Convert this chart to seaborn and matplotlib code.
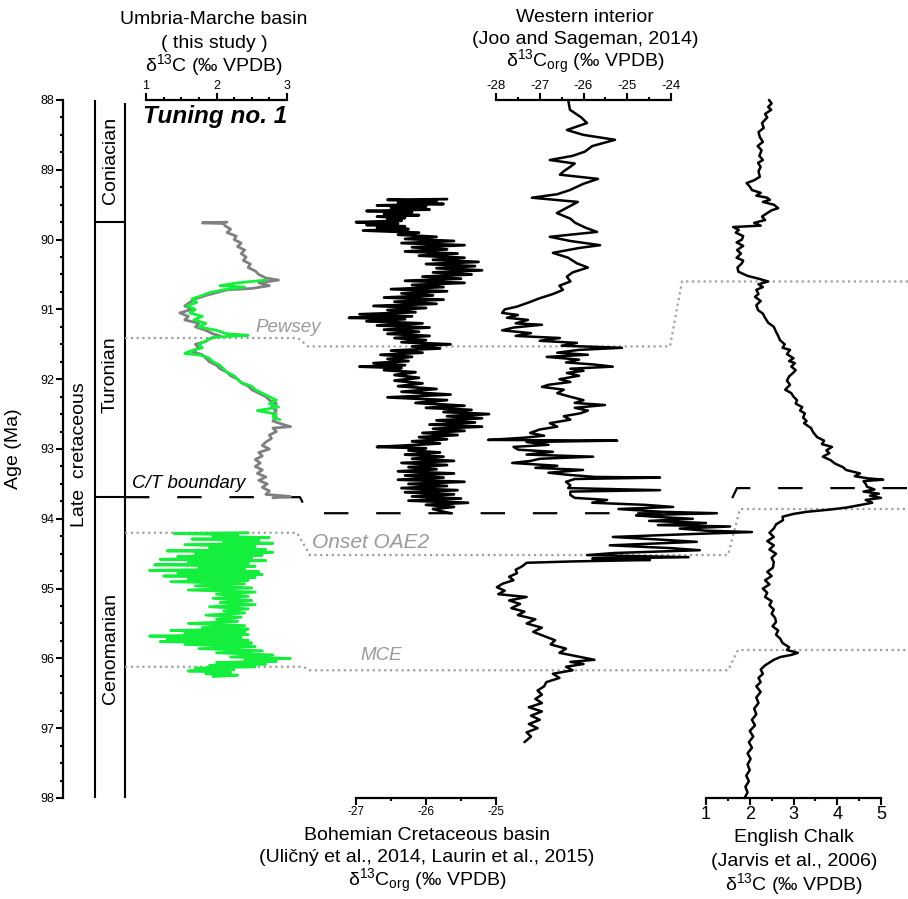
import matplotlib
matplotlib.use("Agg")
import matplotlib.pyplot as plt
from matplotlib.ticker import MultipleLocator
import seaborn as sns

# ---------------- data (age in Ma, value in permil) ----------------
umbria_grey = [
    (89.75, 2.15), (89.76, 1.80), (89.77, 2.10), (89.80, 2.12), (89.85, 2.20), (89.90, 2.15),
    (89.95, 2.28), (90.00, 2.25), (90.05, 2.35), (90.10, 2.30), (90.15, 2.40), (90.20, 2.35),
    (90.25, 2.42), (90.30, 2.38), (90.35, 2.48), (90.40, 2.45), (90.45, 2.55), (90.50, 2.60),
    (90.55, 2.70), (90.58, 2.88), (90.62, 2.60), (90.66, 2.75), (90.70, 2.50), (90.72, 2.15),
    (90.76, 2.00), (90.80, 1.85), (90.85, 1.70), (90.90, 1.62), (90.95, 1.55), (91.00, 1.65),
    (91.05, 1.48), (91.10, 1.60), (91.15, 1.55), (91.20, 1.75), (91.25, 1.70), (91.30, 1.85),
    (91.35, 1.95), (91.38, 2.05), (91.42, 1.90), (91.46, 1.85), (91.50, 1.70), (91.55, 1.75),
    (91.60, 1.65), (91.65, 1.80), (91.70, 1.85), (91.75, 1.90), (91.80, 2.00), (91.85, 2.05),
    (91.90, 2.15), (91.95, 2.20), (92.00, 2.30), (92.05, 2.35), (92.10, 2.45), (92.15, 2.50),
    (92.20, 2.60), (92.25, 2.70), (92.30, 2.75), (92.35, 2.85), (92.40, 2.78), (92.45, 2.85),
    (92.50, 2.80), (92.55, 2.85), (92.60, 2.80), (92.65, 2.95), (92.68, 3.05), (92.70, 2.80),
    (92.75, 2.85), (92.80, 2.75), (92.85, 2.78), (92.90, 2.70), (92.95, 2.65), (93.00, 2.75),
    (93.05, 2.60), (93.10, 2.65), (93.15, 2.55), (93.20, 2.62), (93.25, 2.55), (93.30, 2.65),
    (93.35, 2.58), (93.40, 2.70), (93.45, 2.60), (93.50, 2.72), (93.55, 2.65), (93.60, 2.75),
    (93.65, 2.70), (93.68, 3.05), (93.70, 2.80),
]

umbria_green_upper = [
    (90.58, 2.70), (90.62, 2.30), (90.66, 2.05), (90.68, 2.40), (90.72, 2.10), (90.76, 1.90),
    (90.80, 1.80), (90.85, 1.65), (90.90, 1.72), (90.95, 1.58), (91.00, 1.70), (91.05, 1.62),
    (91.10, 1.80), (91.15, 1.68), (91.20, 1.85), (91.25, 1.75), (91.30, 2.00), (91.35, 2.15),
    (91.37, 2.45), (91.40, 1.95), (91.45, 1.85), (91.50, 1.75), (91.55, 1.80), (91.60, 1.62),
    (91.63, 1.55), (91.66, 1.80), (91.70, 1.90), (91.75, 1.95), (91.80, 2.05), (91.85, 2.10),
    (91.90, 2.15), (91.95, 2.25), (92.00, 2.30), (92.05, 2.35), (92.10, 2.50), (92.15, 2.55),
    (92.20, 2.65), (92.25, 2.75), (92.30, 2.85), (92.35, 2.75), (92.40, 2.88), (92.45, 2.58),
    (92.50, 2.85), (92.55, 2.80), (92.58, 2.90),
]

umbria_green_lower = [
    (94.20, 2.45), (94.21, 1.40), (94.23, 2.30), (94.25, 1.95), (94.27, 2.75), (94.29, 1.65),
    (94.31, 2.60), (94.33, 2.10), (94.35, 2.80), (94.37, 1.55), (94.40, 2.55), (94.42, 1.90),
    (94.44, 2.70), (94.46, 1.30), (94.48, 2.80), (94.50, 1.70), (94.52, 2.65), (94.54, 1.45),
    (94.56, 2.50), (94.58, 1.20), (94.60, 2.70), (94.62, 1.60), (94.64, 2.45), (94.66, 1.12),
    (94.68, 2.55), (94.70, 1.75), (94.72, 2.40), (94.74, 1.05), (94.76, 2.60), (94.78, 1.45),
    (94.80, 2.65), (94.82, 1.25), (94.84, 2.55), (94.86, 1.60), (94.88, 2.45), (94.90, 1.35),
    (94.93, 2.40), (94.96, 1.70), (94.99, 2.50), (95.02, 1.60), (95.05, 2.55), (95.08, 2.00),
    (95.11, 2.45), (95.14, 1.95), (95.17, 2.50), (95.20, 2.05), (95.23, 2.55), (95.26, 1.90),
    (95.29, 2.45), (95.32, 2.10), (95.35, 2.40), (95.38, 1.85), (95.41, 2.35), (95.44, 2.00),
    (95.47, 2.30), (95.50, 1.60), (95.53, 2.40), (95.56, 1.80), (95.58, 2.45), (95.60, 1.35),
    (95.62, 2.40), (95.64, 1.55), (95.66, 2.45), (95.68, 1.05), (95.70, 2.35), (95.72, 1.30),
    (95.74, 2.45), (95.76, 1.20), (95.78, 2.50), (95.80, 1.55), (95.83, 2.55), (95.86, 1.75),
    (95.89, 2.65), (95.92, 2.00), (95.95, 2.80), (95.98, 2.20), (96.00, 3.05), (96.02, 2.40),
    (96.04, 2.85), (96.06, 2.00), (96.08, 2.70), (96.10, 1.90), (96.12, 2.55), (96.14, 1.70),
    (96.16, 2.25), (96.18, 1.60), (96.20, 2.20), (96.22, 1.85), (96.24, 2.30), (96.26, 1.95),
]

bohemian = [
    (89.42, -25.70), (89.43, -26.55), (89.45, -25.85), (89.47, -26.40), (89.49, -25.75), (89.51, -26.70),
    (89.53, -26.00), (89.55, -26.50), (89.57, -25.95), (89.59, -26.85), (89.61, -26.20), (89.63, -26.60),
    (89.65, -26.10), (89.67, -26.70), (89.69, -26.30), (89.71, -26.55), (89.73, -26.35), (89.75, -27.00),
    (89.77, -26.40), (89.79, -26.85), (89.81, -26.30), (89.83, -26.70), (89.85, -26.25), (89.87, -26.90),
    (89.90, -26.10), (89.93, -26.40), (89.96, -25.85), (89.99, -26.30), (90.02, -25.60), (90.05, -26.35),
    (90.08, -25.45), (90.11, -26.20), (90.14, -25.70), (90.17, -26.30), (90.20, -25.55), (90.23, -26.10),
    (90.26, -25.45), (90.29, -25.90), (90.32, -25.25), (90.35, -26.00), (90.38, -25.30), (90.41, -25.85),
    (90.44, -25.20), (90.47, -25.90), (90.50, -25.35), (90.53, -26.05), (90.56, -25.50), (90.59, -26.30),
    (90.62, -25.45), (90.65, -26.20), (90.68, -25.75), (90.71, -26.50), (90.74, -25.70), (90.77, -26.35),
    (90.80, -25.90), (90.83, -26.60), (90.86, -25.75), (90.89, -26.45), (90.92, -25.85), (90.95, -26.75),
    (90.98, -26.00), (91.01, -26.55), (91.04, -26.15), (91.07, -26.95), (91.10, -26.20), (91.12, -27.10),
    (91.14, -26.30), (91.17, -26.85), (91.20, -26.05), (91.23, -26.70), (91.26, -25.95), (91.29, -26.60),
    (91.32, -26.10), (91.35, -26.55), (91.38, -25.95), (91.41, -26.45), (91.44, -26.00), (91.47, -26.35),
    (91.50, -25.65), (91.53, -26.20), (91.56, -25.80), (91.59, -26.50), (91.62, -26.05), (91.65, -26.65),
    (91.68, -26.20), (91.71, -26.55), (91.74, -26.25), (91.77, -26.75), (91.80, -26.30), (91.82, -26.95),
    (91.84, -26.35), (91.87, -26.60), (91.90, -26.15), (91.94, -26.45), (91.98, -26.10), (92.02, -26.45),
    (92.06, -26.05), (92.10, -26.40), (92.14, -25.85), (92.18, -26.35), (92.22, -25.65), (92.26, -26.55),
    (92.30, -25.70), (92.34, -26.15), (92.38, -25.45), (92.41, -26.00), (92.44, -25.35), (92.47, -25.75),
    (92.50, -25.10), (92.53, -25.70), (92.56, -25.20), (92.59, -25.85), (92.62, -25.30), (92.65, -25.95),
    (92.68, -25.20), (92.71, -25.90), (92.74, -25.45), (92.77, -26.05), (92.80, -25.55), (92.83, -26.10),
    (92.86, -25.70), (92.89, -26.20), (92.92, -25.80), (92.95, -26.30), (92.97, -26.70), (92.99, -26.00),
    (93.02, -26.25), (93.05, -25.80), (93.08, -26.30), (93.11, -25.75), (93.14, -26.20), (93.17, -25.60),
    (93.20, -26.35), (93.23, -25.70), (93.26, -26.25), (93.29, -25.85), (93.32, -26.40), (93.35, -25.60),
    (93.38, -26.30), (93.41, -25.75), (93.44, -26.40), (93.47, -25.45), (93.50, -26.25), (93.53, -25.70),
    (93.56, -26.35), (93.59, -25.55), (93.62, -26.30), (93.65, -25.60), (93.68, -26.20), (93.71, -25.50),
    (93.74, -26.25), (93.77, -25.40), (93.80, -26.00), (93.83, -25.60), (93.86, -25.90), (93.90, -25.75),
    (93.92, -25.65),
]

western = [
    (88.00, -26.35), (88.14, -26.31), (88.25, -26.05), (88.33, -25.92), (88.43, -26.38), (88.50, -26.00),
    (88.57, -25.28), (88.66, -25.80), (88.74, -25.97), (88.80, -26.25), (88.86, -26.77), (88.91, -26.20),
    (88.96, -26.31), (89.02, -26.45), (89.07, -26.54), (89.13, -25.67), (89.20, -26.00), (89.29, -26.31),
    (89.35, -26.60), (89.40, -27.18), (89.46, -26.13), (89.55, -26.40), (89.62, -26.61), (89.70, -26.30),
    (89.76, -26.19), (89.83, -25.95), (89.89, -25.69), (89.96, -26.77), (90.02, -26.30), (90.08, -25.62),
    (90.12, -26.10), (90.19, -26.70), (90.26, -26.35), (90.34, -26.15), (90.40, -25.90), (90.47, -26.25),
    (90.53, -26.38), (90.60, -26.30), (90.66, -26.55), (90.72, -26.47), (90.78, -26.70), (90.84, -27.00),
    (90.90, -27.25), (90.96, -27.52), (91.00, -27.80), (91.05, -27.86), (91.08, -27.50), (91.12, -27.75),
    (91.15, -27.27), (91.20, -27.55), (91.22, -26.95), (91.26, -27.60), (91.30, -27.86), (91.34, -27.20),
    (91.38, -27.55), (91.41, -26.54), (91.45, -27.00), (91.48, -26.15), (91.52, -26.50), (91.55, -25.12),
    (91.58, -26.10), (91.62, -26.60), (91.65, -25.90), (91.68, -26.84), (91.72, -26.10), (91.76, -26.40),
    (91.79, -25.75), (91.82, -25.33), (91.85, -26.30), (91.88, -26.00), (91.91, -26.38), (91.95, -26.10),
    (92.00, -26.55), (92.04, -26.30), (92.08, -26.80), (92.11, -26.95), (92.15, -26.45), (92.20, -26.60),
    (92.25, -26.31), (92.30, -26.00), (92.34, -26.20), (92.37, -25.51), (92.41, -26.20), (92.45, -25.90),
    (92.49, -26.08), (92.53, -26.45), (92.58, -26.30), (92.63, -26.77), (92.68, -26.60), (92.72, -27.00),
    (92.77, -27.22), (92.81, -26.90), (92.84, -27.40), (92.87, -28.18), (92.88, -25.23), (92.90, -27.30),
    (92.94, -26.80), (92.97, -27.60), (93.01, -27.49), (93.04, -26.70), (93.08, -27.30), (93.11, -25.78),
    (93.14, -27.00), (93.17, -27.20), (93.20, -27.63), (93.24, -26.60), (93.27, -27.10), (93.30, -26.01),
    (93.34, -26.80), (93.37, -26.35), (93.40, -25.74), (93.41, -24.25), (93.43, -26.20), (93.47, -26.40),
    (93.52, -26.30), (93.56, -26.35), (93.59, -24.25), (93.61, -26.30), (93.66, -26.30), (93.70, -26.20),
    (93.73, -25.46), (93.77, -25.80), (93.80, -24.60), (93.83, -23.95), (93.86, -25.20), (93.90, -24.20),
    (93.92, -22.95), (93.95, -24.80), (93.97, -24.40), (94.00, -23.50), (94.03, -24.50), (94.06, -23.20),
    (94.09, -24.30), (94.11, -22.65), (94.14, -23.80), (94.17, -23.20), (94.19, -22.15), (94.22, -23.60),
    (94.26, -25.33), (94.30, -24.20), (94.33, -23.41), (94.38, -25.40), (94.42, -24.00), (94.45, -23.34),
    (94.49, -25.30), (94.52, -25.92), (94.55, -23.60), (94.57, -25.80), (94.59, -24.48), (94.61, -26.20),
    (94.63, -27.30), (94.68, -27.40), (94.73, -27.55), (94.78, -27.52), (94.83, -27.70), (94.88, -27.60),
    (94.93, -27.85), (94.98, -27.98), (95.03, -27.80), (95.08, -27.95), (95.12, -27.30), (95.17, -27.70),
    (95.22, -27.45), (95.28, -27.65), (95.33, -27.35), (95.38, -27.50), (95.44, -27.10), (95.50, -27.30),
    (95.56, -26.95), (95.62, -27.15), (95.68, -26.90), (95.74, -26.65), (95.80, -26.75), (95.86, -26.40),
    (95.92, -26.55), (95.97, -26.15), (96.02, -25.75), (96.05, -26.30), (96.08, -26.00), (96.12, -26.40),
    (96.17, -26.25), (96.22, -26.70), (96.28, -26.55), (96.34, -26.85), (96.40, -26.90), (96.46, -27.05),
    (96.52, -26.95), (96.58, -27.10), (96.64, -26.95), (96.70, -27.25), (96.76, -26.95), (96.82, -27.20),
    (96.88, -27.00), (96.94, -27.25), (97.00, -27.05), (97.06, -27.30), (97.12, -27.20), (97.20, -27.35),
]

english = [
    (88.00, 2.44), (88.05, 2.50), (88.10, 2.42), (88.14, 2.49), (88.20, 2.35), (88.25, 2.40),
    (88.33, 2.28), (88.40, 2.32), (88.46, 2.20), (88.53, 2.23), (88.60, 2.30), (88.66, 2.18),
    (88.72, 2.27), (88.80, 2.22), (88.86, 2.30), (88.90, 2.19), (88.96, 2.25), (89.02, 2.20),
    (89.10, 2.23), (89.15, 2.10), (89.19, 1.93), (89.24, 2.00), (89.29, 2.05), (89.33, 2.25),
    (89.37, 2.15), (89.40, 2.40), (89.43, 2.46), (89.46, 2.30), (89.50, 2.55), (89.55, 2.65),
    (89.58, 2.50), (89.62, 2.40), (89.67, 2.28), (89.72, 2.35), (89.76, 2.10), (89.80, 2.25),
    (89.82, 1.62), (89.86, 1.75), (89.90, 1.68), (89.95, 1.85), (90.00, 1.82), (90.04, 1.70),
    (90.09, 1.85), (90.15, 1.71), (90.20, 1.80), (90.26, 1.70), (90.30, 1.85), (90.34, 1.82),
    (90.40, 1.72), (90.46, 1.74), (90.52, 1.95), (90.56, 2.20), (90.60, 2.42), (90.64, 2.20),
    (90.68, 2.30), (90.72, 2.15), (90.78, 2.20), (90.82, 2.12), (90.88, 2.25), (90.94, 2.15),
    (91.01, 2.19), (91.06, 2.30), (91.12, 2.35), (91.19, 2.42), (91.25, 2.55), (91.32, 2.60),
    (91.38, 2.65), (91.44, 2.69), (91.50, 2.80), (91.55, 2.75), (91.58, 2.92), (91.64, 2.85),
    (91.70, 3.00), (91.74, 2.90), (91.77, 3.03), (91.82, 2.95), (91.87, 3.05), (91.91, 2.99),
    (91.96, 2.90), (92.02, 2.85), (92.08, 2.92), (92.15, 2.81), (92.20, 2.95), (92.25, 3.00),
    (92.30, 3.08), (92.35, 3.05), (92.40, 3.20), (92.45, 3.15), (92.49, 3.26), (92.55, 3.22),
    (92.60, 3.30), (92.63, 3.24), (92.70, 3.40), (92.76, 3.45), (92.83, 3.54), (92.88, 3.70),
    (92.93, 3.65), (92.97, 3.88), (93.02, 3.75), (93.06, 3.82), (93.11, 3.67), (93.16, 3.85),
    (93.21, 3.95), (93.26, 4.13), (93.30, 4.20), (93.35, 4.52), (93.39, 4.40), (93.42, 4.70),
    (93.44, 5.05), (93.46, 4.60), (93.50, 4.65), (93.54, 4.68), (93.58, 4.85), (93.61, 4.60),
    (93.64, 4.95), (93.67, 4.75), (93.70, 5.00), (93.73, 4.65), (93.77, 4.80), (93.80, 4.55),
    (93.84, 4.20), (93.87, 3.80), (93.90, 3.30), (93.93, 3.00), (93.97, 2.75), (94.02, 2.76),
    (94.08, 2.60), (94.14, 2.55), (94.20, 2.45), (94.26, 2.55), (94.32, 2.40), (94.38, 2.55),
    (94.44, 2.45), (94.50, 2.60), (94.56, 2.50), (94.62, 2.55), (94.70, 2.53), (94.76, 2.40),
    (94.82, 2.50), (94.88, 2.35), (94.94, 2.45), (95.00, 2.30), (95.06, 2.40), (95.12, 2.35),
    (95.18, 2.50), (95.24, 2.45), (95.30, 2.55), (95.36, 2.50), (95.42, 2.58), (95.48, 2.60),
    (95.54, 2.52), (95.60, 2.65), (95.66, 2.60), (95.72, 2.70), (95.78, 2.75), (95.84, 2.90),
    (95.88, 2.85), (95.92, 3.10), (95.95, 2.95), (95.98, 2.70), (96.02, 2.55), (96.06, 2.45),
    (96.10, 2.35), (96.16, 2.25), (96.22, 2.30), (96.28, 2.20), (96.34, 2.25), (96.40, 2.15),
    (96.48, 2.25), (96.56, 2.15), (96.64, 2.20), (96.72, 2.10), (96.80, 2.15), (96.88, 2.05),
    (96.96, 2.12), (97.04, 2.00), (97.12, 2.08), (97.20, 1.98), (97.28, 2.05), (97.36, 1.95),
    (97.44, 2.02), (97.52, 1.95), (97.60, 2.00), (97.68, 1.92), (97.76, 1.98), (97.84, 1.90),
    (97.92, 1.95), (98.00, 1.88),
]

# correlation lines: x in figure pixels, y in age
pewsey_x = [125, 298, 308, 670, 682, 908]
pewsey_age = [91.41, 91.41, 91.53, 91.53, 90.60, 90.60]
oae2_x = [125, 297, 310, 728, 740, 908]
oae2_age = [94.20, 94.20, 94.52, 94.52, 93.86, 93.86]
mce_x = [125, 303, 310, 728, 738, 908]
mce_age = [96.12, 96.12, 96.17, 96.17, 95.88, 95.88]
ct_x = [125, 300, 308, 725, 737, 908]
ct_age = [93.69, 93.69, 93.92, 93.92, 93.56, 93.56]

stage_bounds = [89.75, 93.69]
stages = ["Coniacian", "Turonian", "Cenomanian"]

# ---------------- style ----------------
sns.set_theme(style="ticks", rc={
    "axes.edgecolor": "black", "xtick.color": "black", "ytick.color": "black",
    "text.color": "black", "axes.labelcolor": "black",
})
plt.rcParams["font.family"] = ["Liberation Sans", "DejaVu Sans"]
plt.rcParams["mathtext.fontset"] = "custom"
plt.rcParams["mathtext.rm"] = "Liberation Sans"
plt.rcParams["mathtext.it"] = "Liberation Sans:italic"
plt.rcParams["mathtext.bf"] = "Liberation Sans:bold"
plt.rcParams["mathtext.default"] = "rm"
plt.rcParams["axes.unicode_minus"] = False

W, H = 908, 899
Y_TOP, Y_BOT = 100, 798
GREY_TXT = "#9a9a9a"
GREEN = "#14ee3c"


def rect(x0, x1):
    return [x0 / W, 1 - Y_BOT / H, (x1 - x0) / W, (Y_BOT - Y_TOP) / H]


def fxy(x, y):
    return x / W, 1 - y / H


fig = plt.figure(figsize=(W / 100, H / 100), dpi=100)

# overlay axes: age scale, stratigraphic columns, correlation lines
ov = fig.add_axes(rect(0, W))
ov.patch.set_alpha(0)
ov.set_xlim(0, W)
ov.set_ylim(98, 88)
for s in ["top", "right", "bottom"]:
    ov.spines[s].set_visible(False)
ov.spines["left"].set_position(("data", 63))
ov.spines["left"].set_linewidth(1.6)
ov.set_xticks([])
ov.yaxis.set_major_locator(MultipleLocator(1))
ov.yaxis.set_minor_locator(MultipleLocator(0.25))
ov.tick_params(axis="y", which="major", left=True, length=5, width=1.5, labelsize=9, pad=1)
ov.tick_params(axis="y", which="minor", left=True, length=2.5, width=1.5)
ov.set_ylabel("Age (Ma)", fontsize=14)
ov.yaxis.set_label_coords(22 / W, 0.5)

ov.vlines([95, 125], [88, 88.04], 98, color="black", lw=1.5)
ov.hlines(stage_bounds, 95, 125, color="black", lw=1.5)

for xs, ys in [(pewsey_x, pewsey_age), (oae2_x, oae2_age), (mce_x, mce_age)]:
    ov.plot(xs, ys, color="#a0a0a0", lw=1.6, ls=(0, (1, 1.6)), clip_on=False)
ov.plot(ct_x, ct_age, color="black", lw=1.6, dashes=(11, 12.5), clip_on=False)


def curve_axis(x0, x1, lim, top, minor, labelsize):
    ax = fig.add_axes(rect(x0, x1))
    ax.patch.set_alpha(0)
    for s in ["left", "right", "top", "bottom"]:
        ax.spines[s].set_visible(False)
    side = "top" if top else "bottom"
    ax.spines[side].set_visible(True)
    ax.spines[side].set_linewidth(1.6)
    if top:
        ax.xaxis.tick_top()
    ax.set_yticks([])
    ax.xaxis.set_major_locator(MultipleLocator(1))
    ax.xaxis.set_minor_locator(MultipleLocator(minor))
    ax.tick_params(axis="x", which="major", length=5, width=1.5, labelsize=labelsize, pad=1)
    ax.tick_params(axis="x", which="minor", length=2.5, width=1.5)
    return ax


def draw(ax, pairs, color, lw):
    ages = [p[0] for p in pairs]
    vals = [p[1] for p in pairs]
    sns.lineplot(x=vals, y=ages, ax=ax, sort=False, estimator=None,
                 color=color, linewidth=lw, clip_on=False)


ax_u = curve_axis(146, 287, (1, 3), True, 0.25, 9)
draw(ax_u, umbria_grey, "#808080", 2.0)
draw(ax_u, umbria_green_upper, GREEN, 2.0)
draw(ax_u, umbria_green_lower, GREEN, 2.0)

ax_b = curve_axis(356, 496, (-27, -25), False, 0.5, 8.5)
draw(ax_b, bohemian, "black", 2.0)

ax_w = curve_axis(496, 671, (-28, -24), True, 0.5, 9.5)
draw(ax_w, western, "black", 1.8)

ax_e = curve_axis(706, 881, (1, 5), False, 0.5, 13)
draw(ax_e, english, "black", 1.8)

for ax, lim in [(ax_u, (1, 3)), (ax_b, (-27, -25)), (ax_w, (-28, -24)), (ax_e, (1, 5))]:
    ax.set_xlim(*lim)
    ax.set_ylim(98, 88)
    ax.set_xlabel("")
    ax.set_ylabel("")

# ---------------- texts ----------------
d13c = "δ$^{13}$C (‰ VPDB)"
d13corg = "δ$^{13}$C$_{org}$ (‰ VPDB)"
titles = [
    (214, [(20, "Umbria-Marche basin"), (43, "( this study )"), (65, d13c)]),
    (585, [(18, "Western interior"), (40, "(Joo and Sageman, 2014)"), (62, d13corg)]),
    (427, [(835, "Bohemian Cretaceous basin"),
           (858, "(Uličný et al., 2014, Laurin et al., 2015)"), (881, d13corg)]),
    (794, [(838, "English Chalk"), (861, "(Jarvis et al., 2006)"), (884, d13c)]),
]
for xc, lines in titles:
    for yc, txt in lines:
        fig.text(*fxy(xc, yc), txt, ha="center", va="center", fontsize=14)

fig.text(*fxy(143, 117), "Tuning no. 1", ha="left", va="center",
         fontsize=17.5, fontweight="bold", fontstyle="italic")
fig.text(*fxy(255, 327), "Pewsey", ha="left", va="center", fontsize=13.5,
         fontstyle="italic", color=GREY_TXT)
fig.text(*fxy(312, 543), "Onset OAE2", ha="left", va="center", fontsize=15,
         fontstyle="italic", color=GREY_TXT)
fig.text(*fxy(360, 655), "MCE", ha="left", va="center", fontsize=13.5,
         fontstyle="italic", color=GREY_TXT)
fig.text(*fxy(132, 484), "C/T boundary", ha="left", va="center", fontsize=13.5,
         fontstyle="italic")

fig.text(*fxy(80, 455), "Late  cretaceous", rotation=90, ha="center", va="center", fontsize=14)
for name, yc in zip(stages, [160, 375, 649]):
    fig.text(*fxy(110, yc), name, rotation=90, ha="center", va="center", fontsize=14)

fig.savefig("out.png", dpi=100)
